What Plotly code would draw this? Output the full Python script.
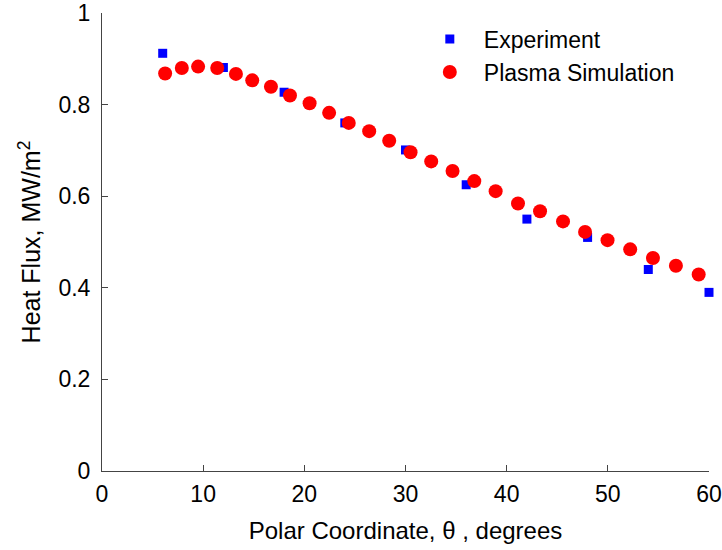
import plotly.graph_objects as go

exp_theta = [6, 12, 18, 24, 30, 36, 42, 48, 54, 60]
exp_flux = [0.912, 0.881, 0.827, 0.760, 0.701, 0.625, 0.550, 0.510, 0.440, 0.390]

sim_theta = [6.24, 7.89, 9.50, 11.39, 13.24, 14.85, 16.70, 18.58, 20.52, 22.45,
             24.39, 26.41, 28.39, 30.50, 32.54, 34.65, 36.80, 38.91, 41.12, 43.30,
             45.57, 47.75, 49.97, 52.21, 54.46, 56.73, 58.98]
sim_flux = [0.868, 0.880, 0.883, 0.880, 0.867, 0.853, 0.839, 0.820, 0.803, 0.782,
            0.760, 0.742, 0.721, 0.696, 0.676, 0.655, 0.633, 0.611, 0.584, 0.567,
            0.545, 0.522, 0.504, 0.484, 0.465, 0.448, 0.429]

x_ticks = [0, 10, 20, 30, 40, 50, 60]
y_ticks = [0, 0.2, 0.4, 0.6, 0.8, 1.0]
y_tick_labels = ["0", "0.2", "0.4", "0.6", "0.8", "1"]

font = "Liberation Sans, Arial, Helvetica, sans-serif"
FS = 23

fig = go.Figure()
fig.add_trace(go.Scatter(x=exp_theta, y=exp_flux, mode="markers", name="Experiment",
                         marker=dict(symbol="square", size=9, color="#0000ff", line=dict(width=0)),
                         cliponaxis=False))
fig.add_trace(go.Scatter(x=sim_theta, y=sim_flux, mode="markers", name="Plasma Simulation",
                         marker=dict(symbol="circle", size=14, color="#ff0000", line=dict(width=0)),
                         cliponaxis=False))

axis_common = dict(showgrid=False, zeroline=False, showline=True, linecolor="#444444", linewidth=1,
                   ticks="inside", ticklen=6, tickcolor="#444444", mirror=False, automargin=False,
                   tickfont=dict(family=font, size=FS, color="#000000"))

fig.update_layout(
    width=722, height=550,
    paper_bgcolor="white", plot_bgcolor="white",
    margin=dict(l=102, r=13, t=13, b=79),
    font=dict(family=font, size=FS, color="#000000"),
    xaxis=dict(range=[0, 60], tickvals=x_ticks, ticklabelstandoff=2,
               title=dict(text="Polar Coordinate, θ , degrees", font=dict(family=font, size=24), standoff=16),
               **axis_common),
    yaxis=dict(range=[0, 1], tickvals=y_ticks, ticktext=y_tick_labels, ticklabelstandoff=6,
               title=dict(text="Heat Flux, MW/m<sup>2</sup>", font=dict(family=font, size=25), standoff=10),
               **axis_common),
    legend=dict(x=0.517, y=0.99, xanchor="left", yanchor="top", bgcolor="rgba(0,0,0,0)",
                font=dict(family=font, size=FS), itemwidth=58, tracegroupgap=0),
    showlegend=True,
)

fig.write_html("out.html", config={"displayModeBar": False},
               post_script="document.body.style.margin='0';")
